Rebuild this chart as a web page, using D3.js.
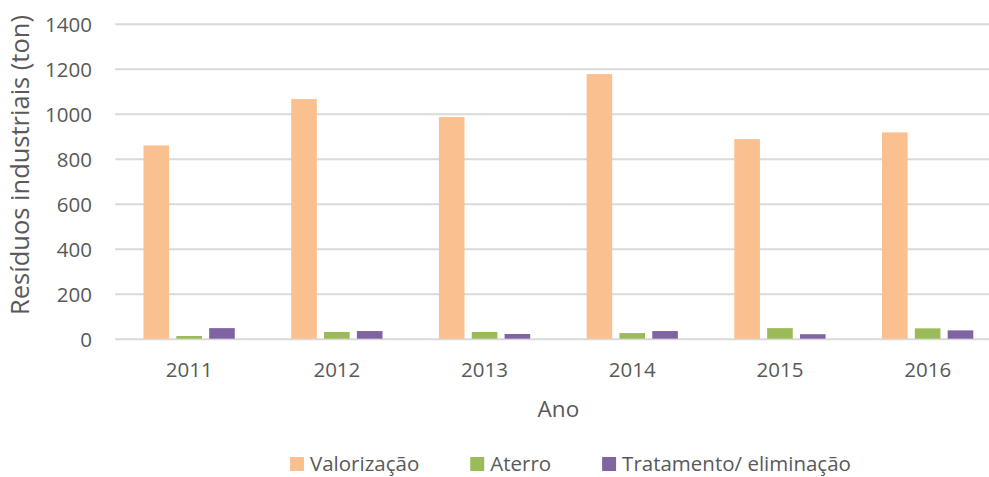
<!DOCTYPE html>
<html>
<head>
<meta charset="utf-8">
<script src="https://cdn.jsdelivr.net/npm/d3@7"></script>
<style>
  body { margin: 0; background: #fff; }
  svg { display: block; }
  text { font-family: "Open Sans", sans-serif; fill: #595959; }
</style>
</head>
<body>
<div id="chart"></div>
<script>
// Data

var years = ["2011", "2012", "2013", "2014", "2015", "2016"];
var seriesNames = ["Valorização", "Aterro", "Tratamento/ eliminação"];
var valorizacao = [859, 1065, 985, 1176, 887, 917];
var aterro = [12, 30, 30, 25, 47, 46];
var tratamento = [47, 34, 21, 34, 20, 37];
var yTicks = [0, 200, 400, 600, 800, 1000, 1200, 1400];
var colors = ["#FAC090", "#9BBB59", "#8064A2"];

var seriesValues = [valorizacao, aterro, tratamento];

var rows = years.map(function(y, i) {
  return {year: y, values: seriesValues.map(function(s, k) {
    return {name: seriesNames[k], value: s[i]};
  })};
});

var W = 989, H = 477;
var plot = {left: 115.3, right: 1001.5, top: 23.7, bottom: 338.7};

var svg = d3.select("#chart")
    .append("svg")
    .attr("width", W)
    .attr("height", H);

// Scales

var x0 = d3.scaleBand()
    .domain(years)
    .range([plot.left, plot.right])
    .paddingInner(0.382)
    .paddingOuter(0.191);

var x1 = d3.scaleBand()
    .domain(seriesNames)
    .range([0, x0.bandwidth()])
    .paddingInner(0.22);

var yScale = d3.scaleLinear()
    .domain([0, 1400])
    .range([plot.bottom, plot.top]);

var color = d3.scaleOrdinal()
    .domain(seriesNames)
    .range(colors);

// Gridlines

var grid = svg.append("g")
    .attr("transform", `translate(${plot.left}, 0)`)
    .call(d3.axisLeft(yScale)
      .tickValues(yTicks)
      .tickSize(-(plot.right - plot.left))
      .tickFormat(""));
grid.select(".domain").remove();
grid.selectAll("line")
    .attr("stroke", "#d9d9d9")
    .attr("stroke-width", 2);

// Y axis labels

var yAxis = svg.append("g")
    .attr("transform", `translate(${plot.left}, 0)`)
    .call(d3.axisLeft(yScale)
      .tickValues(yTicks)
      .tickFormat(d3.format("d"))
      .tickSize(0)
      .tickPadding(23.3));
yAxis.select(".domain").remove();
yAxis.selectAll("text")
    .attr("dy", "0.36em")
    .style("font-size", "20.5px")
    .style("font-family", "'Open Sans', sans-serif")
    .attr("fill", "#595959");

// Bars

var groups = svg.selectAll(".year")
    .data(rows)
    .enter().append("g")
    .attr("class", "year")
    .attr("transform", function(d) { return `translate(${x0(d.year)}, 0)`; });

groups.selectAll("rect")
    .data(function(d) { return d.values; })
    .enter().append("rect")
    .attr("x", function(d) { return x1(d.name); })
    .attr("width", x1.bandwidth())
    .attr("y", function(d) { return yScale(d.value); })
    .attr("height", function(d) { return yScale(0) - yScale(d.value); })
    .attr("fill", function(d) { return color(d.name); });

// X axis labels

var xAxis = svg.append("g")
    .attr("transform", `translate(0, ${plot.bottom})`)
    .call(d3.axisBottom(x0).tickSize(0));
xAxis.select(".domain").remove();
xAxis.selectAll("text")
    .attr("y", 38.8)
    .attr("dy", 0)
    .style("font-size", "20.5px")
    .style("font-family", "'Open Sans', sans-serif")
    .attr("fill", "#595959");

// Axis titles

svg.append("text")
    .attr("x", (plot.left + plot.right) / 2)
    .attr("y", 417)
    .attr("text-anchor", "middle")
    .style("font-size", "22.5px")
    .text("Ano");

svg.append("text")
    .attr("transform", "rotate(-90)")
    .attr("x", -165)
    .attr("y", 29)
    .attr("text-anchor", "middle")
    .style("font-size", "25.5px")
    .text("Resíduos industriais (ton)");

// Legend

var legend = svg.append("g").attr("class", "legend");
var lx = 290;
seriesNames.forEach(function(name) {
  legend.append("rect")
    .attr("x", lx)
    .attr("y", 457)
    .attr("width", 14)
    .attr("height", 14)
    .attr("fill", color(name));
  var t = legend.append("text")
    .attr("x", lx + 20)
    .attr("y", 471)
    .style("font-size", "20.5px")
    .text(name);
  lx += 20 + t.node().getComputedTextLength() + 51;
});
</script>
</body>
</html>
